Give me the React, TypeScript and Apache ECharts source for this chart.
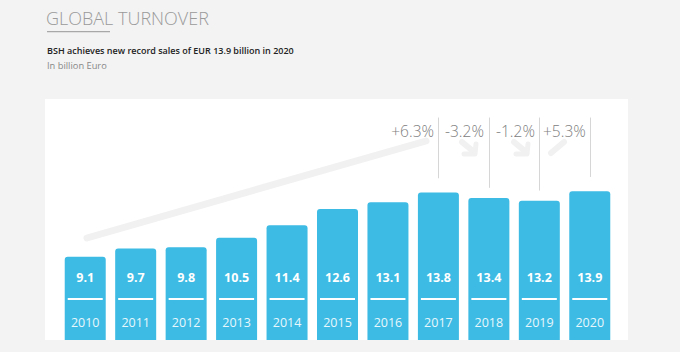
import React, { useEffect, useRef } from "react";
import * as echarts from "echarts";

const years = ["2010", "2011", "2012", "2013", "2014", "2015", "2016", "2017", "2018", "2019", "2020"];
const sales = [9.1, 9.7, 9.8, 10.5, 11.4, 12.6, 13.1, 13.8, 13.4, 13.2, 13.9];
const changeLabels = ["+6.3%", "-3.2%", "-1.2%", "+5.3%"];
const changeYears = ["2017", "2018", "2019", "2020"];

const titleText = "GLOBAL TURNOVER";
const subtitleText = "BSH achieves new record sales of EUR 13.9 billion in 2020";
const unitText = "In billion Euro";

const FONT = "'Open Sans', 'Noto Sans', sans-serif";

export default function App() {
  const ref = useRef<HTMLDivElement>(null);
  useEffect(() => {
    if (!ref.current) return;
    const chart = echarts.init(ref.current, undefined, { renderer: "svg" });

    const lineTop = 19.3;
    const gapFor = (v: number) => (v >= 13.8 ? 1.05 : 0.75);
    const markData = changeYears.map((y) => {
      const idx = years.indexOf(y);
      return [
        { coord: [idx, lineTop] },
        { coord: [idx, sales[idx] + gapFor(sales[idx])] },
      ];
    });

    const faint = "#f1f1f1";
    const pctStyle = (text: string, align: string) => ({
      text,
      fontFamily: FONT,
      fontSize: 15.5,
      fontWeight: 300,
      fill: "#808080",
      textAlign: align,
      textVerticalAlign: "middle",
    });
    const option: any = {
      animation: false,
      backgroundColor: "#f3f3f3",
      textStyle: { fontFamily: FONT },
      grid: { left: 60, right: 65, top: 108, bottom: 12, containLabel: false },
      xAxis: {
        type: "category",
        data: years,
        axisLine: { show: false },
        axisTick: { show: false },
        axisLabel: { show: false },
        splitLine: { show: false },
      },
      yAxis: {
        type: "value",
        min: 3,
        max: 20,
        show: false,
        splitLine: { show: false },
      },
      graphic: [
        {
          type: "rect",
          z: -10,
          shape: { x: 45, y: 99, width: 583, height: 241 },
          style: { fill: "#ffffff" },
        },
        {
          type: "text",
          x: 46,
          y: 18,
          style: {
            text: titleText,
            fontFamily: FONT,
            fontSize: 18,
            fontWeight: 300,
            fill: "#9a9a9a",
            textVerticalAlign: "middle",
          },
        },
        {
          type: "rect",
          shape: { x: 47, y: 31, width: 63, height: 1.2 },
          style: { fill: "#a8a8a8" },
        },
        {
          type: "text",
          x: 47,
          y: 50,
          style: {
            text: subtitleText,
            fontFamily: FONT,
            fontSize: 9,
            fontWeight: 600,
            fill: "#222222",
            textVerticalAlign: "middle",
          },
        },
        {
          type: "text",
          x: 47,
          y: 65,
          style: {
            text: unitText,
            fontFamily: FONT,
            fontSize: 9.3,
            fill: "#888888",
            textVerticalAlign: "middle",
          },
        },
        // big faint trend arrow
        {
          type: "line",
          z: -5,
          shape: { x1: 87, y1: 238, x2: 426, y2: 141 },
          style: { stroke: faint, lineWidth: 7, lineCap: "round" },
        },
        // small arrows
        {
          type: "line",
          z: -5,
          shape: { x1: 462, y1: 142, x2: 474, y2: 152 },
          style: { stroke: faint, lineWidth: 6, lineCap: "round" },
        },
        {
          type: "polyline",
          z: -5,
          shape: { points: [[464, 154], [475, 154], [476, 144]] },
          style: { stroke: faint, lineWidth: 5, lineCap: "round", lineJoin: "round", fill: null },
        },
        {
          type: "line",
          z: -5,
          shape: { x1: 514, y1: 142, x2: 526, y2: 152 },
          style: { stroke: faint, lineWidth: 6, lineCap: "round" },
        },
        {
          type: "polyline",
          z: -5,
          shape: { points: [[516, 154], [527, 154], [528, 144]] },
          style: { stroke: faint, lineWidth: 5, lineCap: "round", lineJoin: "round", fill: null },
        },
        {
          type: "line",
          z: -5,
          shape: { x1: 551, y1: 153, x2: 564, y2: 142 },
          style: { stroke: faint, lineWidth: 6, lineCap: "round" },
        },
        // percentage labels
        { type: "text", x: 434, y: 131, style: pctStyle(changeLabels[0], "right") },
        { type: "text", x: 445, y: 131, style: pctStyle(changeLabels[1], "left") },
        { type: "text", x: 496, y: 131, style: pctStyle(changeLabels[2], "left") },
        { type: "text", x: 543, y: 131, style: pctStyle(changeLabels[3], "left") },
      ],
      series: [
        {
          type: "bar",
          data: sales,
          barWidth: 41,
          itemStyle: { color: "#3dbbe4", borderRadius: [3, 3, 0, 0] },
          label: {
            show: true,
            position: "insideBottom",
            distance: 0,
            formatter: (p: any) => `{v|${p.value}}\n{s| }\n{y|${years[p.dataIndex]}}`,
            rich: {
              v: {
                fontFamily: FONT,
                fontSize: 12.5,
                fontWeight: 700,
                color: "#ffffff",
                lineHeight: 34,
                align: "center",
              },
              s: {
                width: 35,
                height: 2,
                lineHeight: 10,
                backgroundColor: "#ffffff",
                align: "center",
              },
              y: {
                fontFamily: FONT,
                fontSize: 12.5,
                color: "#e8f7fc",
                lineHeight: 36,
                align: "center",
              },
            },
          },
          markLine: {
            silent: true,
            symbol: "none",
            label: { show: false },
            lineStyle: { color: "#d6d6d6", width: 1, type: "solid" },
            data: markData,
          },
        },
      ],
    };
    chart.setOption(option);
    return () => chart.dispose();
  }, []);
  return (
    <div
      ref={ref}
      style={{ position: "fixed", left: 0, top: 0, width: 680, height: 352 }}
    />
  );
}
